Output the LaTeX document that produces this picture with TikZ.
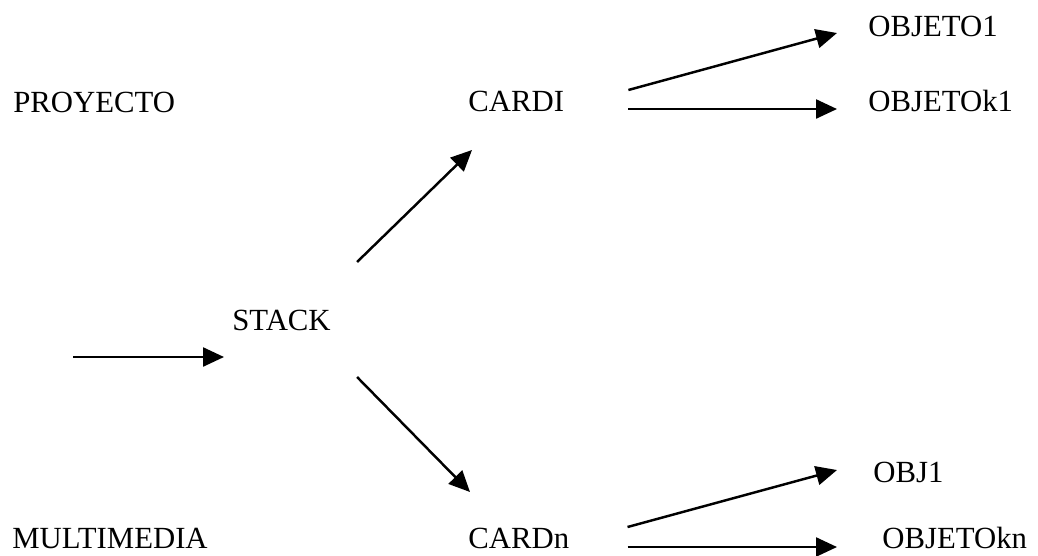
\documentclass[tikz,border=0pt]{standalone}
\usepackage{fontspec}
\setmainfont{Liberation Serif}
\usetikzlibrary{arrows.meta}

\begin{document}
\begin{tikzpicture}[
    font=\fontsize{17.5}{21}\selectfont,
    label/.style={inner sep=0pt, anchor=base west},
    arrow/.style={-{Triangle[length=0.42cm, width=0.38cm]}, line width=1.4pt}
]
\useasboundingbox (0,0) rectangle (20.76,-11.1);

% titles on the left
\node[label] (proyecto) at (0.26,-2.24) {PROYECTO};
\node[label] (multimedia) at (0.24,-10.96) {MULTIMEDIA};

% stack and its cards
\node[label] (stack) at (4.64,-6.60) {STACK};
\node[label] (cardi) at (9.36,-2.22) {CARDI};
\node[label] (cardn) at (9.36,-10.96) {CARDn};

% objects of each card
\node[label] (objeto1) at (17.36,-0.72) {OBJETO1};
\node[label] (objetok1) at (17.36,-2.22) {OBJETOk1};
\node[label] (obj1) at (17.46,-9.64) {OBJ1};
\node[label] (objetokn) at (17.64,-10.96) {OBJETOkn};

\coordinate (entry) at (1.46,-7.14);

\draw[arrow] (entry) -- ([shift={(-0.16,-0.54)}]stack.base west);
\draw[arrow] ([shift={(0.52,1.36)}]stack.base east) -- ([shift={(0.08,-0.78)}]cardi.base west);
\draw[arrow] ([shift={(0.52,-0.94)}]stack.base east) -- ([shift={(0.04,1.12)}]cardn.base west);
\draw[arrow] ([shift={(1.28,0.42)}]cardi.base east) -- ([shift={(-0.62,0.06)}]objeto1.base west);
\draw[arrow] ([shift={(1.28,0.04)}]cardi.base east) -- ([shift={(-0.62,0.04)}]objetok1.base west);
\draw[arrow] ([shift={(1.16,0.42)}]cardn.base east) -- ([shift={(-0.72,0.24)}]obj1.base west);
\draw[arrow] ([shift={(1.16,0.02)}]cardn.base east) -- ([shift={(-0.9,0.02)}]objetokn.base west);

\end{tikzpicture}
\end{document}
